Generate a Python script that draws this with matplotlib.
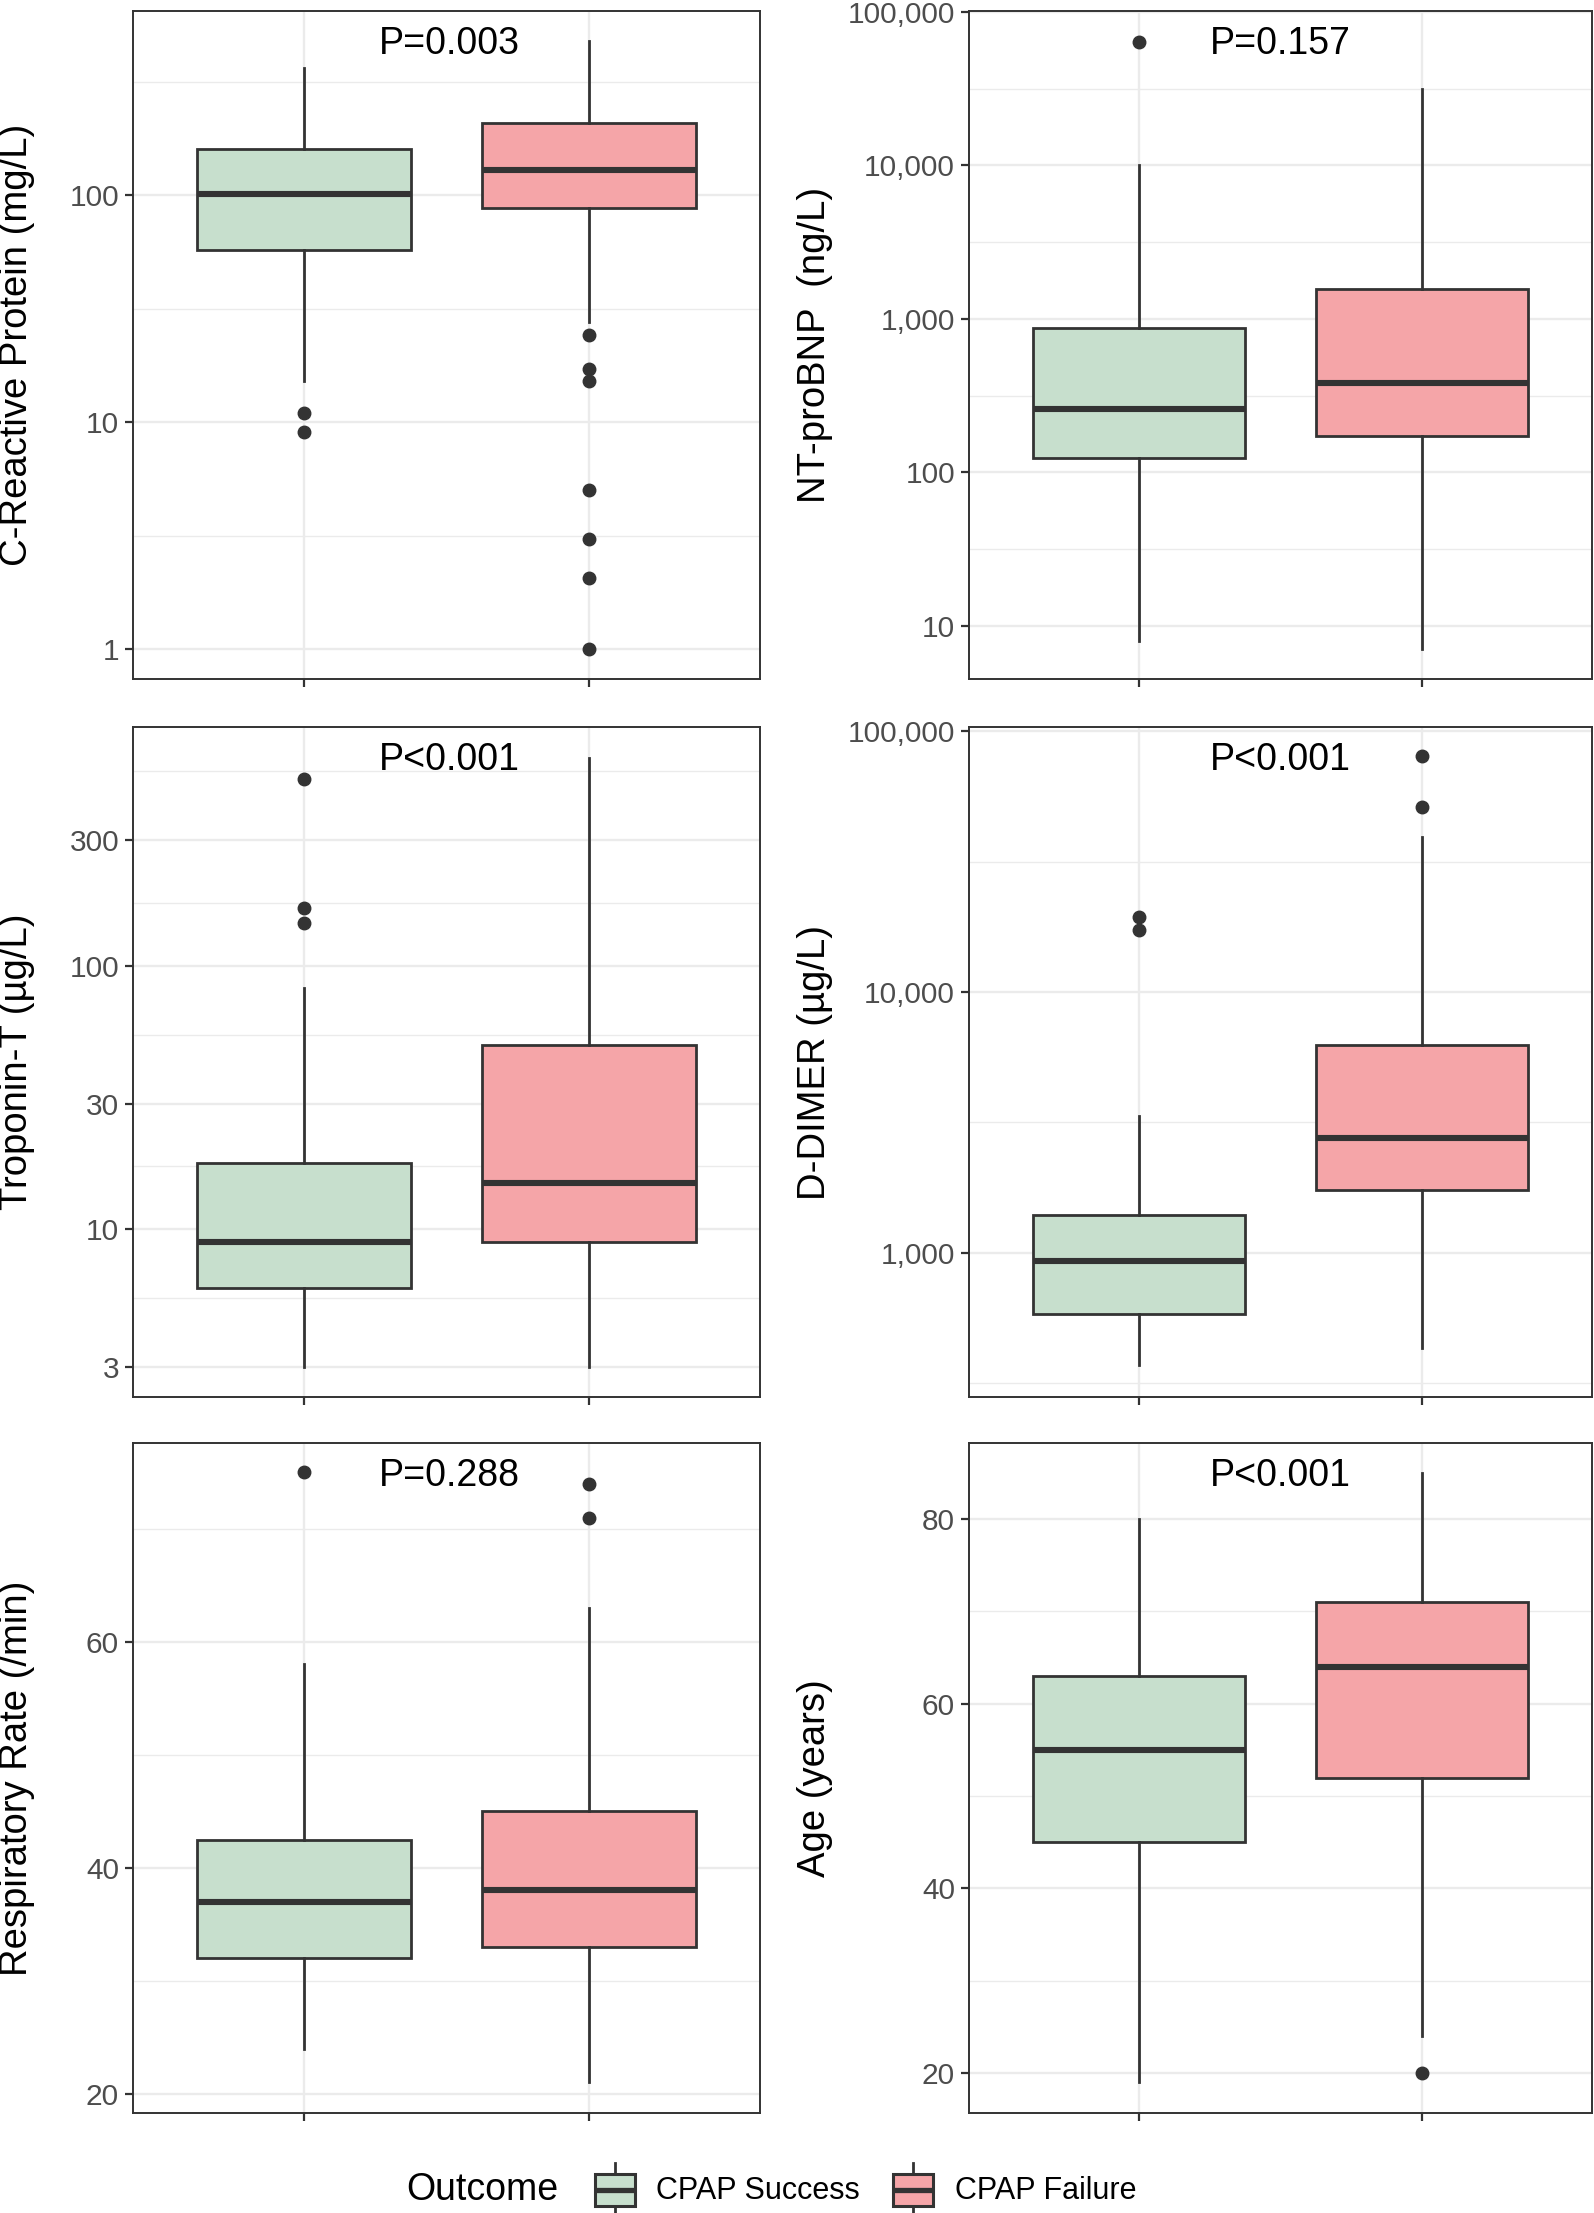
import matplotlib
matplotlib.use("Agg")
import matplotlib.pyplot as plt
from matplotlib.patches import Rectangle, Patch
from matplotlib.lines import Line2D
from matplotlib.legend_handler import HandlerBase

plt.rcParams['font.family'] = ['Liberation Sans', 'DejaVu Sans']

groups = ["CPAP Success", "CPAP Failure"]
colors = ["#c7dfcd", "#f5a5a8"]
line_col = "#333333"

# (whisker low, q1, median, q3, whisker high) per group
crp_stats = [(15.1, 57, 101, 160, 362), (27.6, 88, 129, 207, 475)]
crp_fliers = [[11.0, 9.05], [24.3, 17.2, 15.1, 5.03, 3.05, 2.05, 1.0]]

bnp_stats = [(7.96, 124, 260, 875, 10000), (7.0, 171, 381, 1564, 31600)]
bnp_fliers = [[63500], []]

trop_stats = [(3.0, 6.0, 8.97, 17.9, 82), (3.0, 8.97, 15.0, 50.2, 614)]
trop_fliers = [[513, 165, 145], []]

ddim_stats = [(369, 582, 925, 1390, 3335), (431, 1738, 2740, 6270, 39300)]
ddim_fliers = [[19400, 17300], [80300, 51100]]

resp_stats = [(24, 32, 37, 42.5, 58), (21, 33, 38, 45, 63)]
resp_fliers = [[75], [74, 71]]

age_stats = [(19.1, 45, 55, 63, 80), (24, 52, 64, 71, 85)]
age_fliers = [[], [20]]

p_labels = ["P=0.003", "P=0.157", "P<0.001", "P<0.001", "P=0.288", "P<0.001"]
y_titles = ["C-Reactive Protein (mg/L)", "NT-proBNP  (ng/L)", "Troponin-T (\u00b5g/L)",
            "D-DIMER (\u00b5g/L)", "Respiratory Rate (/min)", "Age (years)"]

crp_ticks = [1, 10, 100]
crp_minor = [3.162, 31.62, 316.2]
bnp_ticks = [10, 100, 1000, 10000, 100000]
bnp_minor = [31.62, 316.2, 3162, 31623]
trop_ticks = [3, 10, 30, 100, 300]
trop_minor = [5.477, 17.32, 54.77, 173.2, 547.7]
ddim_ticks = [1000, 10000, 100000]
ddim_minor = [316.2, 3162, 31623]
resp_ticks = [20, 40, 60]
resp_minor = [30, 50, 70]
age_ticks = [20, 40, 60, 80]
age_minor = [30, 50, 70]

panels = [
    (crp_stats, crp_fliers, crp_ticks, crp_minor, True, (0.738, 647)),
    (bnp_stats, bnp_fliers, bnp_ticks, bnp_minor, True, (4.49, 101500)),
    (trop_stats, trop_fliers, trop_ticks, trop_minor, True, (2.31, 805)),
    (ddim_stats, ddim_fliers, ddim_ticks, ddim_minor, True, (279, 104000)),
    (resp_stats, resp_fliers, resp_ticks, resp_minor, False, (18.3, 77.6)),
    (age_stats, age_fliers, age_ticks, age_minor, False, (15.7, 88.2)),
]

W, H = 1594, 2213
fig = plt.figure(figsize=(W / 100, H / 100), dpi=100)

col_x = [(133, 760), (969, 1592)]
row_y = [(11, 679), (727, 1397), (1443, 2113)]


def fmt(v):
    return "{:,}".format(int(v)) if v >= 1000 else "{:g}".format(v)


for i, (st, fl, ticks, minor, logy, ylim) in enumerate(panels):
    r, c = divmod(i, 2)
    x0, x1 = col_x[c]
    y0, y1 = row_y[r]
    ax = fig.add_axes([x0 / W, 1 - y1 / H, (x1 - x0) / W, (y1 - y0) / H])
    bstats = []
    for (lo, q1, med, q3, hi), f in zip(st, fl):
        bstats.append(dict(whislo=lo, q1=q1, med=med, q3=q3, whishi=hi, fliers=f))
    res = ax.bxp(bstats, positions=[1, 2], widths=0.75, patch_artist=True, showcaps=False,
                 boxprops=dict(linewidth=2.0, edgecolor=line_col),
                 whiskerprops=dict(linewidth=2.0, color=line_col),
                 medianprops=dict(linewidth=4.4, color=line_col, solid_capstyle='butt'),
                 flierprops=dict(marker='o', markerfacecolor=line_col, markeredgecolor=line_col,
                                 markersize=9, linestyle='none'))
    for patch, col in zip(res['boxes'], colors):
        patch.set_facecolor(col)
    if logy:
        ax.set_yscale('log')
    ax.set_xlim(0.4, 2.6)
    ax.set_ylim(*ylim)
    ax.set_yticks(ticks)
    ax.set_yticklabels([fmt(t) for t in ticks])
    ax.set_yticks(minor, minor=True)
    ax.set_yticklabels([], minor=True)
    ax.set_xticks([1, 2])
    ax.set_xticklabels([])
    ax.tick_params(which='major', length=6, width=1.6, color=line_col, labelsize=21.5,
                   labelcolor='#4d4d4d', pad=4)
    ax.tick_params(which='minor', length=0)
    ax.set_axisbelow(True)
    ax.grid(which='major', axis='both', color='#ebebeb', linewidth=1.7)
    ax.grid(which='minor', axis='y', color='#ebebeb', linewidth=1.0)
    for sp in ax.spines.values():
        sp.set_color(line_col)
        sp.set_linewidth(1.4)
    ax.set_ylabel(y_titles[i], fontsize=27.5, color='black')
    ax.yaxis.set_label_coords(-0.156 if c == 0 else -0.218, 0.5)
    ax.text(0.505 if c == 0 else 0.5, 0.95, p_labels[i], transform=ax.transAxes,
            ha='center', va='center', fontsize=27, color='black')


class BoxKey(HandlerBase):
    def create_artists(self, legend, orig_handle, xdescent, ydescent, width, height,
                       fontsize, trans):
        x0, y0 = -xdescent, -ydescent
        xm = x0 + width / 2
        arts = [
            Line2D([xm, xm], [y0, y0 + 0.21 * height], color=line_col, lw=2.0),
            Line2D([xm, xm], [y0 + 0.79 * height, y0 + height], color=line_col, lw=2.0),
            Rectangle((x0, y0 + 0.21 * height), width, 0.58 * height,
                      facecolor=orig_handle.get_facecolor(), edgecolor=line_col, lw=2.2),
            Line2D([x0, x0 + width], [y0 + height / 2] * 2, color=line_col, lw=3.8,
                   solid_capstyle='butt'),
        ]
        for a in arts:
            a.set_transform(trans)
        return arts


handles = [Patch(facecolor=c, edgecolor=line_col) for c in colors]
fig.legend(handles, groups, handler_map={Patch: BoxKey()}, loc='center',
           bbox_to_anchor=(0.543, 1 - 2190 / H), ncol=2, frameon=False, fontsize=22,
           handlelength=1.3, handleheight=2.35, handletextpad=0.7, columnspacing=1.1)
fig.text(558 / W, 1 - 2190 / H, "Outcome", ha='right', va='center', fontsize=27)

fig.savefig("out.png", dpi=100)
